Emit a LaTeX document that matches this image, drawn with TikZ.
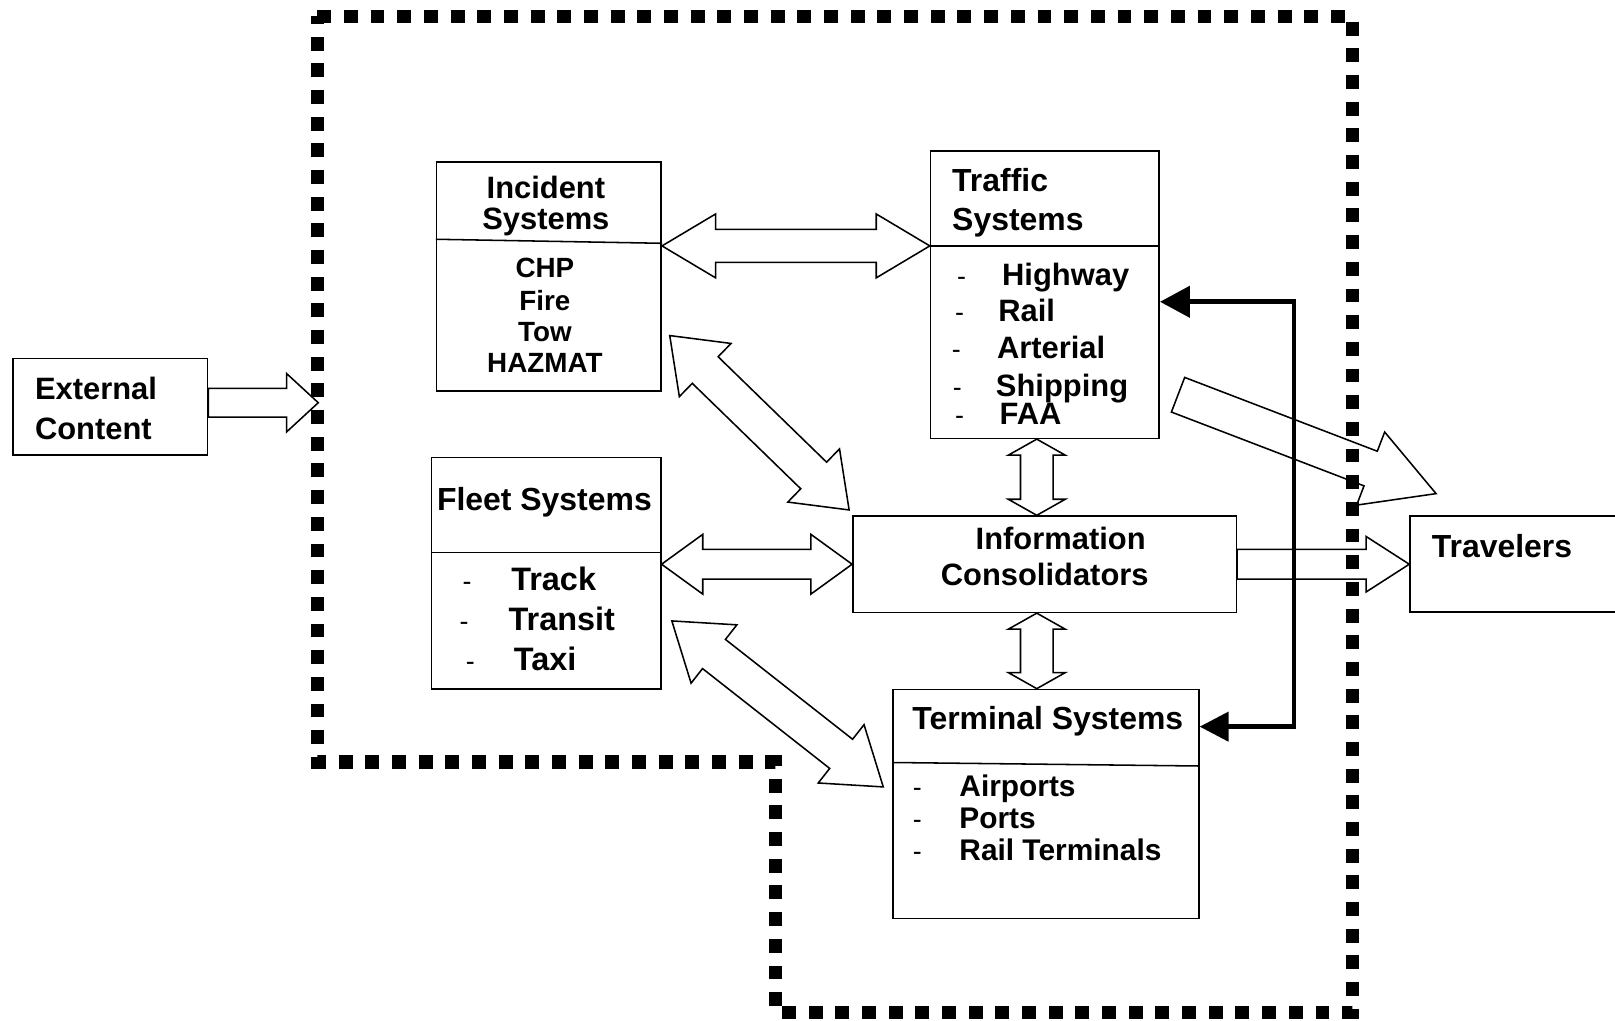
\documentclass[tikz,border=0pt]{standalone}
\usepackage{fontspec}
\setmainfont{Liberation Sans}
\usepackage{tikz}
\usetikzlibrary{calc, arrows.meta}

\newcommand{\sizeA}{\fontsize{30}{36}\selectfont}
% hollow block arrows: #1,#2 ends, #3 half shaft, #4 half head, #5 head length
\newcommand{\dblarrow}[5]{%
  \draw[blockarrow] (#1) -- ($(#1)!#5!(#2)!#4!90:(#2)$) -- ($(#1)!#5!(#2)!#3!90:(#2)$)
    -- ($(#2)!#5!(#1)!#3!-90:(#1)$) -- ($(#2)!#5!(#1)!#4!-90:(#1)$) -- (#2)
    -- ($(#2)!#5!(#1)!#4!90:(#1)$) -- ($(#2)!#5!(#1)!#3!90:(#1)$)
    -- ($(#1)!#5!(#2)!#3!-90:(#2)$) -- ($(#1)!#5!(#2)!#4!-90:(#2)$) -- cycle;}
\newcommand{\sglarrow}[5]{%
  \draw[blockarrow] ($(#1)!#3!90:(#2)$) -- ($(#2)!#5!(#1)!#3!-90:(#1)$)
    -- ($(#2)!#5!(#1)!#4!-90:(#1)$) -- (#2) -- ($(#2)!#5!(#1)!#4!90:(#1)$)
    -- ($(#2)!#5!(#1)!#3!90:(#1)$) -- ($(#1)!#3!-90:(#2)$) -- cycle;}

\begin{document}
\begin{tikzpicture}[
      % GLOBAL CFG
      x=1pt, y=-1pt,
      font=\bfseries\sizeA,
      % Styles
      sys/.style={% For system boxes
        rectangle,
        draw,
        line width=1.5pt,
        inner sep=0pt
      },
      divider/.style={line width=1.5pt},
      title/.style={% Centred texts
        anchor=base,
        inner sep=0pt
      },
      item/.style={% Left aligned texts
        anchor=base west,
        inner sep=0pt
      },
      dashmark/.style={
        anchor=base west,
        inner sep=0pt,
        font=\mdseries\fontsize{26}{26}\selectfont
      },
      blockarrow/.style={% Hollow arrows
        draw,
        line width=1.5pt,
        line join=miter
      },
      region/.style={% Dotted boundary
        line width=13pt,
        dash pattern=on 13.5pt off 12.4pt
      },
      feed/.style={
        line width=4.5pt,
        line join=miter,
        arrows={Triangle[length=29pt,width=30pt]-Triangle[length=28pt,width=28pt]}
      }
      ]
      \useasboundingbox (0,0) rectangle (1568,991);

      % The dotted boundary
      \draw[region] (308,16) -- (1313,16) -- (1313,983) -- (753,983) -- (753,740) -- (308,740) -- cycle;

      % The boxes
      \node [sys, minimum width=188.8pt, minimum height=93.7pt] (external) at (107.1,394.9) {};
      \node [sys, minimum width=218pt, minimum height=222.3pt] (incident) at (533,268.2) {};
      \node [sys, minimum width=222pt, minimum height=279pt] (traffic) at (1014.5,286.1) {};
      \node [sys, minimum width=222.7pt, minimum height=225.2pt] (fleet) at (530.2,556.6) {};
      \node [sys, minimum width=372.3pt, minimum height=93.5pt] (info) at (1014.2,547.8) {};
      \node [sys, minimum width=297pt, minimum height=222.3pt] (terminal) at (1015.5,780.5) {};
      \node [sys, minimum width=231pt, minimum height=93.2pt] (travelers) at (1484.5,547.4) {};

      \draw [divider] ([yshift=-76pt]incident.north west) -- ([yshift=-79.9pt]incident.north east);
      \draw [divider] ([yshift=-92.9pt]traffic.north west) -- ([yshift=-92.9pt]traffic.north east);
      \draw [divider] ([yshift=-93.2pt]fleet.north west) -- ([yshift=-93.2pt]fleet.north east);
      \draw [divider] ([yshift=-71.7pt]terminal.north west) -- ([yshift=-75.1pt]terminal.north east);

      % Texts
      \node [item] (external1) at (33.8,388.3) {External};
      \node [item] (external2) at (33.8,426.5) {Content};

      \node [title] (incidentT1) at (530,192.6) {Incident};
      \node [title] (incidentT2) at (530,222.6) {Systems};
      \foreach \t/\yy [count=\i] in {CHP/269.6, Fire/301, Tow/331.7, HAZMAT/361.8}
        \node [title, font=\bfseries\fontsize{27}{31}\selectfont] (incident\i) at (529,\yy) {\t};

      \node [item, font=\bfseries\fontsize{31}{36}\selectfont] (trafficT1) at (924.3,186.1) {Traffic};
      \node [item, font=\bfseries\fontsize{31}{36}\selectfont] (trafficT2) at (924.3,224) {Systems};
      \foreach \t/\xx/\dx/\yy [count=\i] in {Highway/972.8/929/276.7, Rail/969/927/312.3,
          Arterial/967.8/924/347.9, Shipping/966.8/925/384.5, FAA/970.4/927/412.6}{
        \node [item] (traffic\i) at (\xx,\yy) {\t};
        \node [dashmark] (trafficdash\i) at (\dx,\yy) {-};
      }

      \node [title, font=\bfseries\fontsize{31}{36}\selectfont] (fleetT) at (528.6,495.8) {Fleet Systems};
      \foreach \t/\xx/\dx/\yy [count=\i] in {Track/496.2/449/573.5, Transit/493.6/446/612.3, Taxi/498.8/452/651.2}{
        \node [item, font=\bfseries\fontsize{31.5}{36}\selectfont] (fleet\i) at (\xx,\yy) {\t};
        \node [dashmark] (fleetdash\i) at (\dx,\yy) {-};
      }

      \node [title] (info1) at (1029.8,533.3) {Information};
      \node [title] (info2) at (1014.3,568.9) {Consolidators};

      \node [item, font=\bfseries\fontsize{31}{36}\selectfont] (terminalT) at (885.6,708.7) {Terminal Systems};
      \foreach \t/\yy [count=\i] in {Airports/773.5, Ports/804.2, Rail Terminals/835.6}{
        \node [item, font=\bfseries\fontsize{29}{34}\selectfont] (terminal\i) at (931.3,\yy) {\t};
        \node [dashmark] (terminaldash\i) at (886,\yy) {-};
      }

      \node [item, font=\bfseries\fontsize{31}{36}\selectfont] (travelers1) at (1390,541.1) {Travelers};

      % Connector ends
      \coordinate (extTip) at (309,391);
      \coordinate (trafDiv) at ([yshift=-92.9pt]traffic.north west);
      \coordinate (incidOut) at ([shift={(7.5,-54.3)}]incident.south east);
      \coordinate (infoIn) at ([shift={(-2.9,-5.2)}]info.north west);
      \coordinate (fleetOut) at ([shift={(10,159.6)}]fleet.north east);
      \coordinate (termIn) at ([shift={(-8.7,95.4)}]terminal.north west);
      \coordinate (trafOut) at ([shift={(17.5,-43.1)}]traffic.south east);
      \coordinate (travIn) at ([shift={(26,-20.8)}]travelers.north west);
      \coordinate (vx) at (1006.6,0);
      \coordinate (trafBot) at (traffic.south -| vx);
      \coordinate (infoTop) at (info.north -| vx);
      \coordinate (infoBot) at (info.south -| vx);
      \coordinate (termTop) at (terminal.north -| vx);
      \coordinate (extOut) at (external.east |- extTip);
      \coordinate (incidDiv) at (incident.east |- trafDiv);
      \coordinate (fleetIn) at (fleet.east |- info.west);
      \coordinate (travWest) at (travelers.west |- info.east);
      \coordinate (bus) at (1256.5,293);
      \coordinate (busLow) at (1256.5,705.5);

      % Arrows
      \sglarrow{extOut}{extTip}{14pt}{28.3pt}{30.7pt}
      \dblarrow{incidDiv}{trafDiv}{16pt}{31pt}{52pt}
      \dblarrow{incidOut}{infoIn}{18pt}{36pt}{48pt}
      \dblarrow{fleetIn}{info.west}{14.5pt}{29pt}{40pt}
      \dblarrow{fleetOut}{termIn}{18pt}{36pt}{52pt}
      \dblarrow{trafBot}{infoTop}{15.8pt}{27.7pt}{15.6pt}
      \dblarrow{infoBot}{termTop}{15.8pt}{27.7pt}{15.6pt}
      \sglarrow{info.east}{travWest}{14.4pt}{27pt}{42pt}
      \sglarrow{trafOut}{travIn}{18pt}{38pt}{68pt}

      \draw [feed] (traffic.east |- bus) -- (bus) -- (busLow) -- (terminal.east |- busLow);
\end{tikzpicture}
\end{document}
